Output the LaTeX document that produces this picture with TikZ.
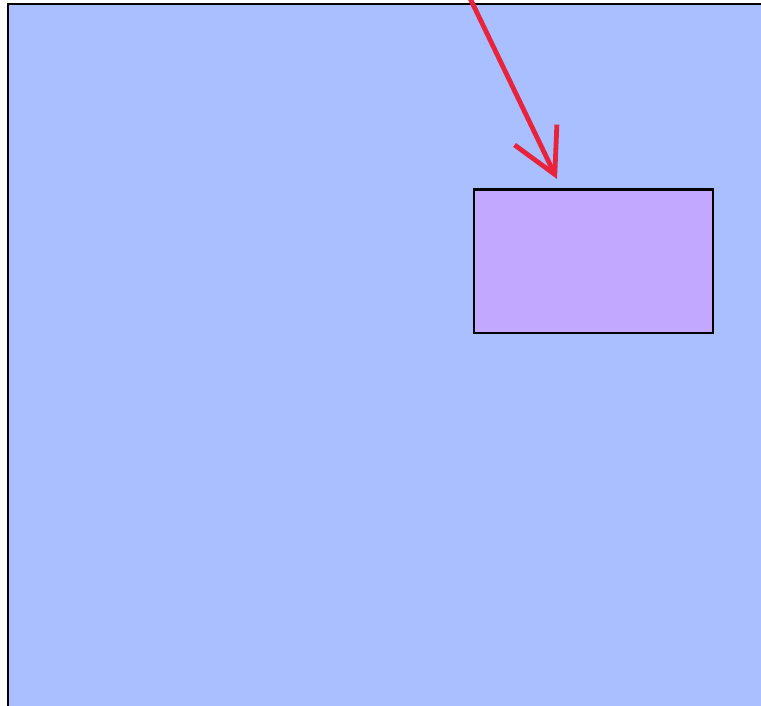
\documentclass[tikz,border=0pt]{standalone}
\usetikzlibrary{arrows.meta}
\definecolor{bgblue}{HTML}{A9BFFF}
\definecolor{boxpurple}{HTML}{C2A9FF}
\definecolor{arrowred}{HTML}{E8233A}
\begin{document}
\begin{tikzpicture}[x=1pt,y=-1pt,
  outerbox/.style={draw=black,line width=2.4pt,fill=bgblue},
  innerbox/.style={draw=black,line width=2.4pt,fill=boxpurple},
  redarrow/.style={draw=arrowred,line width=4.8pt,-{Straight Barb[length=44pt,width=47pt]}}]
\useasboundingbox (0,0) rectangle (761,706);
\fill[white] (0,0) rectangle (761,706);
\begin{scope}
\clip (0,0) rectangle (761,706);
\path[outerbox] (8,4) rectangle (800,760);
\node[innerbox,minimum width=239pt,minimum height=143pt,inner sep=0pt,anchor=north west] (box) at (473,188.5) {};
\coordinate (start) at (468,-6);
\coordinate (tip) at (557,179);
\draw[redarrow] (start) -- (tip);
\end{scope}
\end{tikzpicture}
\end{document}
